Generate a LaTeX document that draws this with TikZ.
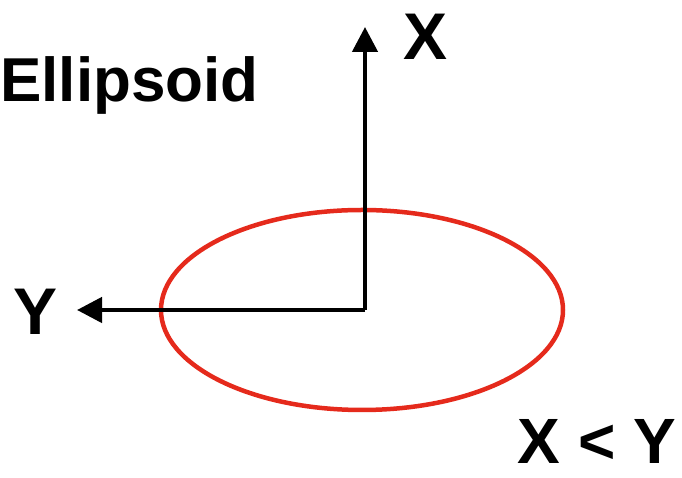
\documentclass[tikz,border=0pt]{standalone}
\usepackage{fontspec}
\setmainfont{Liberation Sans}
\usetikzlibrary{arrows.meta, positioning}
\definecolor{ellipsoidRed}{HTML}{E52A1C}

\begin{document}
\begin{tikzpicture}[
		x=1pt, y=1pt,
		every node/.style={font=\fontsize{66}{66}\selectfont\bfseries, inner sep=0pt},
		axis/.style={-{Triangle[length=25pt, width=25pt]}, line width=4.5pt, draw=black},
		shell/.style={draw=ellipsoidRed, line width=4.5pt}
	]
		\useasboundingbox (0,0) rectangle (682,478);

		\coordinate (origin) at (365,168);
		\coordinate (xtip) at (365,451);
		\coordinate (ytip) at (77,168);

		\draw[shell] (362,168) ellipse [x radius=201, y radius=100];

		\draw[axis] (origin) -- (xtip);
		\draw[axis] (origin) -- (ytip);

		\node[anchor=base west, font=\fontsize{62}{62}\selectfont\bfseries] (title) at (0,376) {Ellipsoid};
		\node[anchor=base] (xlabel) at (426,418) {X};
		\node[anchor=base] (ylabel) at (36,143) {Y};
		\node[anchor=base, font=\fontsize{64}{64}\selectfont\bfseries] (relation) at (597,14) {X < Y};
	\end{tikzpicture}
\end{document}
